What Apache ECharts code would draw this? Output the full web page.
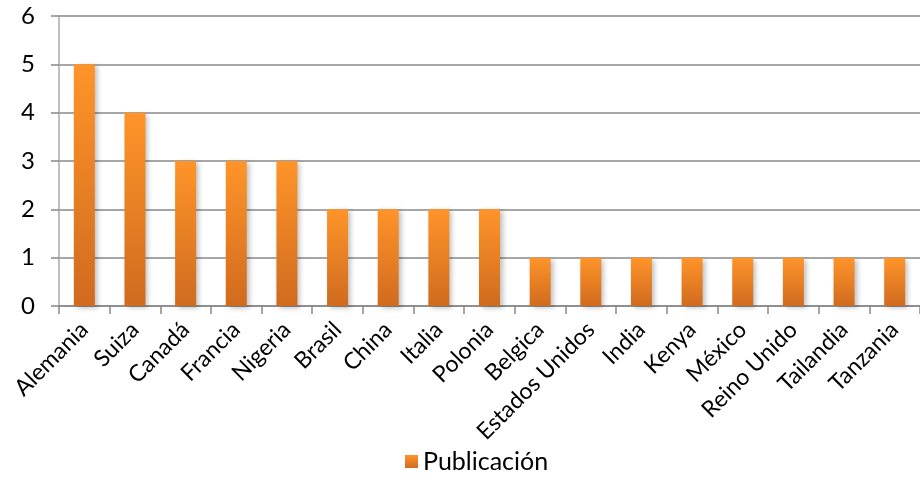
<!DOCTYPE html>
<html><head><meta charset="utf-8">
<script src="https://cdn.jsdelivr.net/npm/echarts@6/dist/echarts.min.js"></script>
<style>html,body{margin:0;padding:0;background:#fff}#c{width:920px;height:483px}</style>
</head><body><div id="c"></div>
<script>
const categories = ["Alemania","Suiza","Canadá","Francia","Nigeria","Brasil","China","Italia","Polonia","Belgica","Estados Unidos","India","Kenya","México","Reino Unido","Tailandia","Tanzania"];
const publicacion = [5,4,3,3,3,2,2,2,2,1,1,1,1,1,1,1,1];
const yTicks = {min:0, max:6, interval:1};
const seriesName = "Publicación";

const chart = echarts.init(document.getElementById('c'), null, {renderer:'canvas'});
const font = 'Lato, "Open Sans", sans-serif';
chart.setOption({
  animation:false,
  grid:{left:59, top:16, width:868, height:290, containLabel:false},
  legend:{bottom:4, left:400, itemWidth:13, itemHeight:13, itemGap:6, icon:'rect',
    textStyle:{fontFamily:font, fontSize:25, color:'#000'}, data:[seriesName]},
  xAxis:{type:'category', data:categories,
    axisLine:{lineStyle:{color:'#888', width:1.5}},
    axisTick:{show:true, alignWithLabel:false, length:8, lineStyle:{color:'#888', width:1.5}},
    axisLabel:{rotate:45, fontFamily:font, fontSize:23, color:'#000', margin:20, interval:0}},
  yAxis:{type:'value', min:yTicks.min, max:yTicks.max, interval:yTicks.interval,
    axisLine:{show:true, lineStyle:{color:'#aaa', width:1.5}},
    axisTick:{show:true, length:8, lineStyle:{color:'#888', width:1.5}},
    splitLine:{lineStyle:{color:'#888', width:1.5}},
    axisLabel:{fontFamily:font, fontSize:24, color:'#000', margin:24}},
  series:[{name:seriesName, type:'bar', data:publicacion, barWidth:21,
    itemStyle:{color:new echarts.graphic.LinearGradient(0,0,0,1,[{offset:0,color:'#FF9429'},{offset:1,color:'#D06B1F'}]),
      shadowColor:'rgba(0,0,0,0.25)', shadowBlur:5, shadowOffsetX:3, shadowOffsetY:2}}]
});
</script></body></html>
